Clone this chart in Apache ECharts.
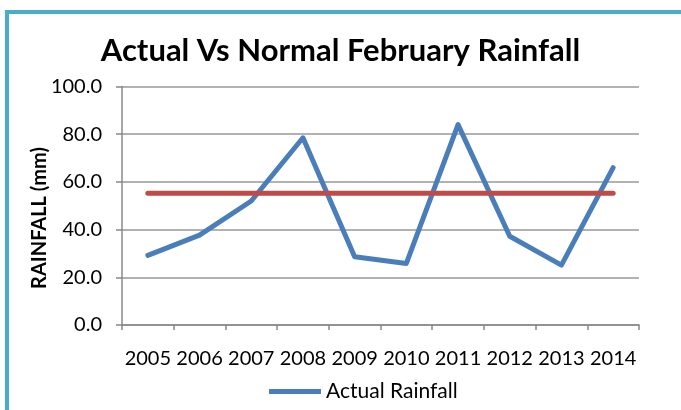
<!DOCTYPE html>
<html><head><meta charset="utf-8">
<script src="https://cdn.jsdelivr.net/npm/echarts@6/dist/echarts.min.js"></script>
<style>html,body{margin:0;padding:0;background:#fff}#c{width:681px;height:410px}</style>
</head><body><div id="c"></div>
<script>
const years = ['2005','2006','2007','2008','2009','2010','2011','2012','2013','2014'];
const actualRainfall = [29.2, 37.7, 52.0, 78.5, 28.6, 25.8, 84.0, 37.2, 25.1, 66.0];
const normalRainfall = [55.2, 55.2, 55.2, 55.2, 55.2, 55.2, 55.2, 55.2, 55.2, 55.2];
const yTicks = { min: 0, max: 100, interval: 20 };
const yAxisTitle = 'RAINFALL (mm)';

const chart = echarts.init(document.getElementById('c'), null, {renderer: 'canvas'});
const font = 'Lato, "Open Sans", sans-serif';
chart.setOption({
  animation: false,
  backgroundColor: '#fff',
  graphic: [{
    type: 'rect', silent: true, z: 100,
    shape: { x: 7, y: 12, width: 800, height: 600 },
    style: { fill: 'none', stroke: '#4BACC6', lineWidth: 4 }
  }, {
    type: 'text', silent: true, x: 40, y: 218, rotation: Math.PI / 2,
    style: { text: yAxisTitle, fontFamily: font, fontWeight: 'bold', fontSize: 20,
      fill: '#000', align: 'center', verticalAlign: 'middle' }
  }],
  title: {
    text: 'Actual Vs Normal February Rainfall',
    left: 'center', top: 30,
    textStyle: { fontFamily: font, fontWeight: 'bold', fontSize: 31, color: '#000' }
  },
  legend: {
    data: ['Actual Rainfall'],
    top: 376, left: 264,
    itemWidth: 52, itemHeight: 5, itemGap: 5,
    icon: 'rect',
    textStyle: { fontFamily: font, fontSize: 21, color: '#000' }
  },
  grid: { left: 122, right: 42, top: 86.5, bottom: 85, containLabel: false },
  xAxis: {
    type: 'category', data: years, boundaryGap: true,
    axisLine: { lineStyle: { color: '#888', width: 1.5 } },
    axisTick: { show: true, length: 5, lineStyle: { color: '#888', width: 1.5 } },
    axisLabel: { fontFamily: font, fontSize: 20, color: '#000', margin: 24, interval: 0 }
  },
  yAxis: {
    type: 'value', min: yTicks.min, max: yTicks.max, interval: yTicks.interval,
    axisLine: { show: true, lineStyle: { color: '#888', width: 1.5 } },
    axisTick: { show: true, length: 6, lineStyle: { color: '#888', width: 1.5 } },
    axisLabel: { fontFamily: font, fontSize: 20, color: '#000', margin: 20,
      formatter: v => v.toFixed(1) },
    splitLine: { lineStyle: { color: '#999', width: 1.5 } }
  },
  series: [
    { name: 'Actual Rainfall', type: 'line', data: actualRainfall, symbol: 'none',
      color: '#4A7EBB',
      lineStyle: { color: '#4A7EBB', width: 5, cap: 'round', join: 'round' } },
    { name: 'Normal Rainfall', type: 'line', data: normalRainfall, symbol: 'none',
      color: '#BE4B48',
      lineStyle: { color: '#BE4B48', width: 5, cap: 'round', join: 'round' } }
  ]
});
</script></body></html>
